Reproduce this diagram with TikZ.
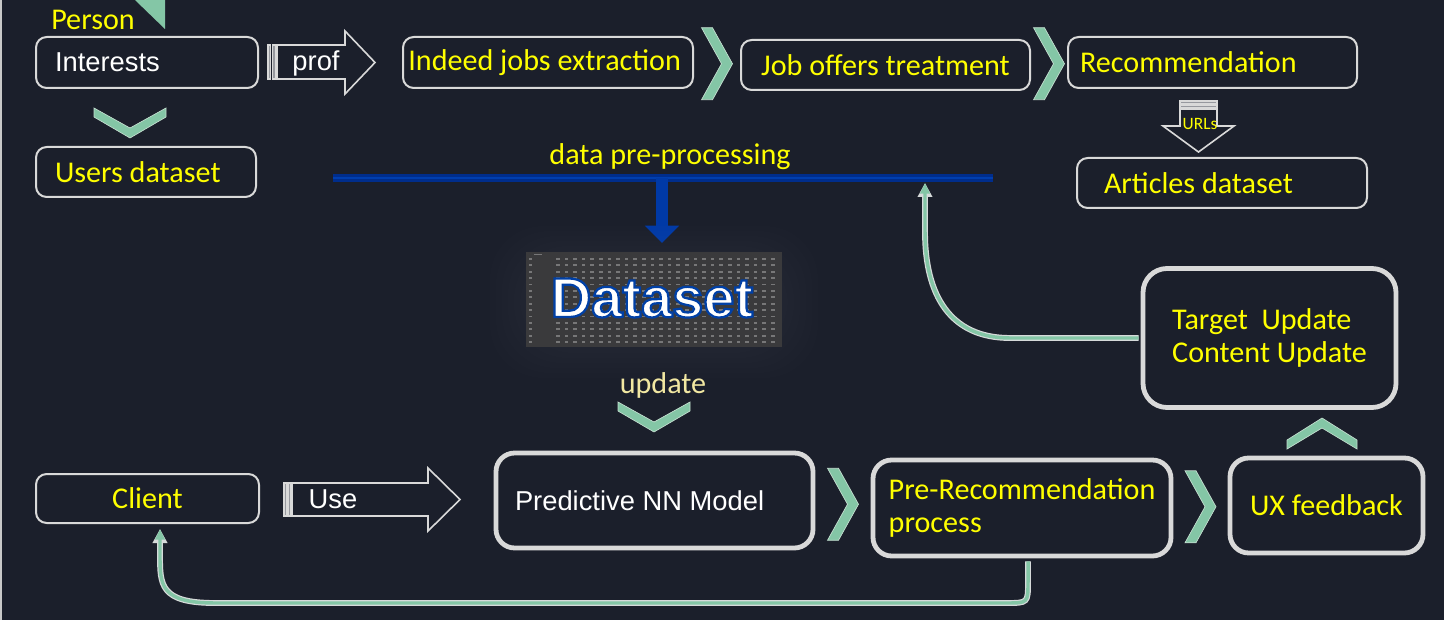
\documentclass[tikz,border=0pt]{standalone}
\usepackage{fontspec}
\usetikzlibrary{arrows.meta,calc}
\newfontfamily\calfont{Carlito}
\newfontfamily\arifont{Liberation Sans}

\tikzset{every picture/.style={line width=0.75pt}}
\tikzset{
	box/.style={draw={rgb, 255:red, 217; green, 217; blue, 217 }, fill={rgb, 255:red, 27; green, 31; blue, 43 }, line width=1.5pt, rounded corners=8pt},
	thick box/.style={box, line width=3.6pt, rounded corners=14pt},
	yellow text/.style={text={rgb, 255:red, 255; green, 255; blue, 0 }, font=\calfont\fontsize{22.6}{25}\selectfont},
	white text/.style={text=white, font=\arifont\fontsize{20.5}{24}\selectfont},
	chev/.style={fill={rgb, 255:red, 132; green, 198; blue, 166 }, draw={rgb, 255:red, 196; green, 222; blue, 208 }, line width=0.5pt},
	block arrow/.style={draw={rgb, 255:red, 217; green, 217; blue, 217 }, line width=1.2pt},
	stripe/.style={block arrow, fill={rgb, 255:red, 150; green, 152; blue, 158 }},
	flow/.style={draw={rgb, 255:red, 132; green, 198; blue, 166 }, line width=2.6pt, -{Triangle[length=8pt,width=7pt]},
		preaction={draw={rgb, 255:red, 214; green, 218; blue, 218 }, line width=4.4pt, -{Triangle[length=10.5pt,width=10.5pt]}}},
	cell/.style={fill={rgb, 255:red, 160; green, 160; blue, 160 }, fill opacity=0.6}
}

\begin{document}
\begin{tikzpicture}[x=0.75pt,y=0.75pt,yscale=-1,xscale=1]
	\useasboundingbox (0,0) rectangle (1444,620);
	%Shape: Rectangle (slide)
	\fill [fill={rgb, 255:red, 27; green, 31; blue, 43 }] (0,0) rectangle (1444,620);
	\draw [draw={rgb, 255:red, 200; green, 200; blue, 200 }, line width=1.5pt] (1,0) -- (1,620);
	%Shape: Right Triangle
	\fill [fill={rgb, 255:red, 132; green, 198; blue, 166 }] (135,0) -- (165,0) -- (165,29) -- cycle;

	% Text Node
	\draw (93,20) node [yellow text] (person) {Person};

	%Shape: Rounded Rectangles (top)
	\draw (147,62.5) node [box, white text, minimum height=38.25pt, inner xsep=14.25pt, text width=138pt, align=flush left] (interests) {Interests};
	\draw (146,172) node [box, yellow text, minimum height=37.5pt, inner xsep=14.25pt, text width=136.5pt, align=flush left] (users) {Users dataset};
	\draw (548,62.5) node [box, yellow text, minimum height=38.25pt, inner xsep=4pt, text width=209.5pt, align=flush left] (indeed) {Indeed jobs extraction};
	\draw (885.5,65) node [box, yellow text, minimum width=216.75pt, minimum height=37.5pt] (offers) {Job offers treatment};
	\draw (1212.5,62.5) node [box, yellow text, minimum height=38.25pt, inner xsep=9pt, text width=198.75pt, align=flush left] (recommend) {Recommendation};
	\draw (1222,183) node [box, yellow text, minimum height=37.5pt, inner xsep=20.25pt, text width=177pt, align=flush left] (articles) {Articles dataset};

	%Shape: Rounded Rectangles (bottom)
	\draw (147.5,498.5) node [box, yellow text, minimum width=167.25pt, minimum height=36.75pt] (client) {Client};
	\draw (654.5,500.5) node [thick box, white text, minimum height=71.25pt, inner xsep=14.25pt, text width=209.25pt, align=flush left] (model) {Predictive NN Model};
	\draw (1022,508) node [thick box, yellow text, minimum width=223.5pt, minimum height=72pt, align=left] (prerec) {Pre-Recommendation\\process};
	\draw (1326.5,505.5) node [thick box, yellow text, minimum width=144.75pt, minimum height=71.25pt] (ux) {UX feedback};
	\draw (1269.5,338) node [thick box, yellow text, rounded corners=18pt, minimum width=189.75pt, minimum height=104.25pt, align=left] (target) {Target~ Update\\Content Update};

	%Shape: Striped Right Arrow
	\draw [stripe] (268,45) rectangle (270.5,79) (272.5,45) rectangle (275.5,79);
	\draw [block arrow] (277,45) -- (345,45) -- (345,31) -- (375,62.5) -- (345,94) -- (345,79) -- (277,79) -- cycle;
	\draw (316,63) node [white text] (prof) {prof};
	%Shape: Striped Right Arrow
	\draw [stripe] (284,483) rectangle (286.5,516) (288,483) rectangle (290.5,516);
	\draw [block arrow] (292,483) -- (428,483) -- (428,468) -- (460,499.5) -- (428,531) -- (428,516) -- (292,516) -- cycle;
	\draw (333,499) node [white text] (use) {Use};
	%Shape: Striped Down Arrow
	\draw [stripe] (1180,101) rectangle (1217,103.5) (1180,105) rectangle (1217,107.5);
	\draw [block arrow] (1180,109) -- (1217,109) -- (1217,126) -- (1234,126) -- (1198.5,152) -- (1163,126) -- (1180,126) -- cycle;
	\draw (1200,124) node [yellow text, font=\calfont\fontsize{13}{15}\selectfont] (urls) {URLs};

	%Shape: Chevrons
	\foreach \a/\b in {indeed/offers, offers/recommend, model/prerec, prerec/ux}
		\draw [chev] ($(\a.east)!0.5!(\b.west)+(-15.5,-36)$) -- ++(11,0) -- ++(20,36) -- ++(-20,36) -- ++(-11,0) -- ++(20,-36) -- cycle;
	\foreach \cx/\cy in {130/123, 654/417}
		\draw [chev] (\cx-36,\cy-15) -- (\cx,\cy+5) -- (\cx+36,\cy-15) -- (\cx+36,\cy-6) -- (\cx,\cy+15) -- (\cx-36,\cy-6) -- cycle;
	\draw [chev] (1287,440) -- (1322,418) -- (1357,440) -- (1357,449) -- (1322,428) -- (1287,449) -- cycle;

	%Straight Lines (pre-processing bar)
	\coordinate (barL) at (333,178);
	\coordinate (barR) at (993,178);
	\coordinate (barM) at (662,178);
	\coordinate (feedin) at (925,183);
	\draw [draw={rgb, 255:red, 0; green, 45; blue, 140 }, line width=5.5pt, postaction={draw={rgb, 255:red, 0; green, 62; blue, 175 }, line width=1.5pt}] (barL) -- (barR);
	\draw (670,157) node [yellow text] (prep) {data pre-processing};
	\draw [draw={rgb, 255:red, 0; green, 57; blue, 166 }, line width=9.5pt, -{Triangle[length=13pt,width=25pt]}] (barM) -- ++(0,65);

	%Shape: Glow
	\foreach \k in {0,...,5}
		\fill [white, fill opacity=0.008, rounded corners=40pt] (490+\k*6,226+\k*5) rectangle (818-\k*6,378-\k*5);
	%Image: Dataset sheet
	\fill [fill={rgb, 255:red, 58; green, 58; blue, 60 }] (526,252) rectangle (782,347);
	\foreach \j in {0,...,13} {
		\fill [cell] (529,258+\j*6.4) rectangle ++(2.5,1.8);
		\foreach \i in {0,...,25}
			\fill [cell] (556+\i*8.6,258+\j*6.4) rectangle ++(3.6,1.8);
	}
	\fill [cell] (534,253.5) rectangle ++(8,1.5);
	% Text Node
	\draw (652,298) node [text=white, font=\arifont\bfseries\fontsize{42}{42}\selectfont] (dataset) {\special{pdf:literal direct 0 0.25 0.65 RG 1.7 w 2 Tr}Dataset\special{pdf:literal direct 0 Tr}};
	% Text Node
	\draw (663,385) node [yellow text, text={rgb, 255:red, 242; green, 232; blue, 162 }] (update) {update};

	%Curve Lines
	\draw [flow] ($(target.west)+(-2,0)$) -- (1010,338) .. controls (950,338) and (925,295) .. (925,232) -- (feedin);
	\draw [flow] ($(prerec.south)+(6,3)$) -- (1028,582) .. controls (1028,603) .. (1006,603) -- (215,603) .. controls (160,603) and (160,585) .. (160,555) -- ($(client.south)+(12.5,5)$);

\end{tikzpicture}
\end{document}
